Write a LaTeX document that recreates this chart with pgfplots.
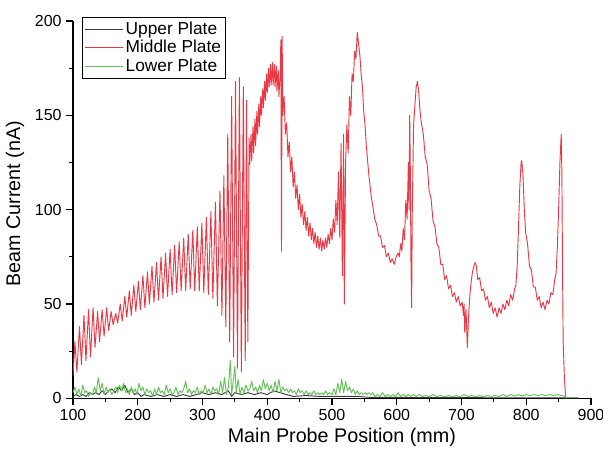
\documentclass[border=0pt]{standalone}
\usepackage{fontspec}
\setmainfont{Liberation Sans}
\usepackage{pgfplots}
\pgfplotsset{compat=1.18}

\definecolor{upper}{RGB}{60,60,60}
\definecolor{middle}{RGB}{236,56,68}
\definecolor{lower}{RGB}{100,192,88}

\begin{document}
\begin{tikzpicture}
\begin{axis}[
  width=388.5pt, height=283pt, scale only axis,
  xmin=100, xmax=900, ymin=0, ymax=200,
  axis lines=left, axis line style={-, line width=0.8pt},
  xtick={100,200,...,900}, ytick={0,50,...,200},
  minor x tick num=1, minor y tick num=1,
  tick align=outside, tick style={black, line width=0.8pt},
  major tick length=5pt, minor tick length=3pt,
  /pgf/number format/assume math mode=true,
  tick label style={font=\fontsize{12}{14}\selectfont},
  xlabel={Main Probe Position (mm)},
  ylabel={Beam Current (nA)},
  label style={font=\fontsize{14.8}{17}\selectfont},
  xlabel style={at={(axis description cs:0.519,-0.103)}, anchor=center},
  ylabel style={at={(axis description cs:-0.112,0.516)}, anchor=center},
  legend style={at={(axis description cs:0.017,1.011)}, anchor=north west,
    draw=black, line width=0.5pt, font=\fontsize{13}{15}\selectfont,
    inner sep=1.5pt, row sep=-1pt},
  legend cell align=left,
  legend image code/.code={\draw[#1] (0cm,0cm) -- (1cm,0cm);},
  every axis plot/.append style={line width=0.7pt, line join=round},
]
\coordinate (bl) at (rel axis cs:0,0);
\coordinate (tr) at (rel axis cs:1,1);

% Upper Plate
\addplot[color=upper, no marks] coordinates {
(100,1) (105,2) (110,1) (115,2) (120,1) (125,3) (130,2) (135,3) (140,2) (145,4)
(150,2) (155,4) (160,5) (165,3) (170,6) (175,4) (180,7) (185,3) (190,5) (195,2)
(200,3) (205,1) (210,2) (220,1) (230,2) (240,1) (250,2) (260,1) (270,2) (280,1)
(290,2) (300,3) (310,2) (320,3) (330,2) (340,4) (345,1) (350,3) (360,2) (370,3)
(380,2) (390,3) (400,2) (410,4) (420,3) (430,2) (440,1) (460,1.5) (480,1) (500,1)
(520,1) (540,1) (560,0.5) (600,0.5) (650,0.4) (700,0.4) (750,0.3) (800,0.3) (850,0.3) (880,0.3)
};
\addlegendentry{Upper Plate}

% Middle Plate
\addplot[color=middle, no marks] coordinates {
(100,12) (103,30) (106,14) (110,38) (113,18) (117,44) (120,20) (124,47) (127,22) (131,48)
(134,27) (138,46) (141,30) (145,47) (148,33) (152,48) (155,36) (159,46) (162,39) (166,45)
(169,40) (173,50) (176,41) (180,54) (183,43) (187,57) (190,44) (194,60) (197,46) (201,62)
(204,47) (208,65) (211,48) (215,67) (218,50) (222,70) (225,51) (229,72) (232,52) (236,75)
(239,53) (243,77) (246,54) (250,79) (253,55) (257,81) (260,56) (264,83) (267,57) (271,85)
(274,57) (278,87) (281,58) (285,89) (288,57) (292,91) (295,57) (299,93) (302,56) (306,96)
(309,55) (313,99) (316,53) (320,104) (323,49) (327,110) (330,44) (333,118)
(336,38) (339,140) (342,30) (345,160) (348,22) (351,168) (354,16) (357,170) (360,14) (363,165)
(366,20) (368,158) (370,30) (372,138)
(373,124) (375,140) (376,126) (378,144) (379,130) (381,148) (382,134) (384,152) (385,140) (387,156)
(388,144) (390,160) (391,150) (393,164) (394,154) (396,168) (397,158) (399,172) (400,162) (402,175)
(403,165) (405,177) (406,166) (408,178) (409,166) (411,177) (412,165) (414,176) (415,163) (417,174)
(418,160) (420,172) (421,190) (422,78) (423,192) (424,150) (426,160) (428,140)
(430,146) (432,128) (434,136) (436,120) (438,128) (440,112) (442,120) (444,106) (446,113) (448,100)
(450,108) (452,96) (454,103) (456,92) (458,99) (460,89) (462,96) (464,86) (466,93) (468,84)
(470,90) (472,82) (474,88) (476,80) (478,86) (480,79) (482,85) (484,78) (486,84) (488,79)
(490,85) (492,80) (494,87) (496,82) (498,90) (500,84) (502,95) (504,88) (506,105) (508,92)
(510,120) (512,85) (514,135) (516,65) (518,140) (519,50) (521,125) (523,145) (525,130) (527,160)
(529,150) (531,172) (533,168) (535,184) (537,180) (539,194) (541,188) (543,182) (545,172) (547,165)
(549,152) (551,145) (553,134) (555,126) (557,118) (559,112) (561,106) (563,102) (566,95) (569,92)
(572,86) (575,86) (578,80) (581,81) (584,75) (587,77) (590,72) (593,74) (596,71) (599,75)
(602,77) (604,75) (606,82) (608,78) (610,90) (612,84) (614,105) (616,95) (618,125) (619,100)
(620,150) (621,120) (622,70) (623,48) (624,100) (626,145) (628,155) (630,165) (632,168) (634,162)
(636,152) (638,146) (641,140) (644,128) (647,124) (650,110) (653,106) (656,94) (659,91) (662,82)
(665,80) (668,71) (671,71) (674,63) (677,65) (680,58) (683,60) (686,54) (689,56) (692,51)
(695,54) (698,49) (701,51) (703,44) (704,50) (705,35) (707,47) (709,27) (711,44) (713,55)
(715,62) (717,67) (719,70) (721,72) (723,70) (725,63) (728,64) (731,57) (734,58) (737,52)
(740,54) (743,48) (746,51) (749,45) (752,48) (755,43) (758,48) (761,45) (764,50) (767,47)
(770,52) (773,49) (776,55) (779,52) (782,58) (784,60) (786,70) (788,90) (790,112) (792,125)
(793,126) (795,118) (797,100) (799,88) (802,82) (805,70) (808,68) (811,59) (814,59) (817,52)
(820,54) (823,48) (826,51) (829,47) (832,52) (835,50) (838,56) (841,55) (844,63) (846,66)
(848,80) (850,100) (852,125) (854,140) (855,120) (856,70) (857,30) (859,10) (861,0)
};
\addlegendentry{Middle Plate}

% Lower Plate
\addplot[color=lower, no marks] coordinates {
(100,3) (103,6) (106,2) (109,5) (112,1) (115,7) (118,3) (121,4) (124,1) (127,3)
(130,2) (133,6) (136,3) (139,11) (142,4) (145,8) (148,2) (151,6) (154,3) (157,5)
(160,2) (163,4) (166,6) (169,3) (172,7) (175,4) (178,8) (181,3) (184,5) (187,2)
(190,6) (193,3) (196,5) (199,2) (202,8) (205,4) (208,6) (211,2) (214,5) (217,3)
(220,4) (223,1) (226,5) (229,2) (232,6) (235,3) (238,4) (241,2) (244,7) (247,3)
(250,5) (253,2) (256,3) (259,6) (262,2) (265,4) (268,3) (271,5) (274,9) (277,3)
(280,5) (283,2) (286,4) (289,3) (292,6) (295,2) (298,4) (301,3) (304,7) (307,3)
(310,5) (313,2) (316,6) (319,4) (322,5) (325,2) (328,9) (331,3) (334,11) (337,2)
(340,6) (343,20) (345,2) (347,8) (350,17) (352,3) (355,10) (358,2) (361,6) (364,3)
(367,7) (370,4) (373,5) (376,9) (379,4) (382,6) (385,3) (388,7) (391,4) (394,10)
(397,5) (400,8) (403,4) (406,7) (409,3) (412,9) (415,4) (418,10) (421,3) (424,6)
(427,4) (430,5) (433,3) (436,5) (439,3) (442,4) (445,2) (448,5) (451,3) (454,4)
(457,2) (460,4) (463,2) (466,3) (469,2) (472,4) (475,2) (478,3) (481,2) (484,3)
(487,2) (490,4) (493,2) (496,3) (500,2) (503,5) (506,2) (509,8) (512,3) (515,10)
(518,3) (521,9) (524,4) (527,6) (530,3) (533,5) (536,2) (539,4) (542,2) (545,3)
(548,2) (551,3) (554,2) (557,3) (560,2) (563,3) (566,1) (570,2) (574,1) (578,3)
(582,1) (586,2) (590,1) (594,2) (598,1) (602,3) (606,1) (610,2) (614,1) (618,2)
(622,1) (626,2) (630,1) (635,2) (640,1) (645,1.5) (650,0.8) (656,2) (662,1) (668,1.5)
(674,0.8) (680,1.5) (686,0.8) (692,1.5) (698,0.8) (704,2) (710,1) (716,1.5) (722,0.8) (728,1.5)
(734,0.8) (740,1.5) (746,1) (752,1.5) (758,1) (764,2) (770,1) (776,2) (782,1.2) (788,2)
(794,1.2) (800,2) (806,1.5) (812,2) (818,1.5) (824,2) (830,1.5) (836,2) (842,1.5) (848,2)
(854,1.5) (860,1) (862,0.3) (880,0.3)
};
\addlegendentry{Lower Plate}
\end{axis}
\pgfresetboundingbox
\path ([shift={(-54.75pt,-44.25pt)}]bl) rectangle ([shift={(9pt,15.75pt)}]tr);
\end{tikzpicture}
\end{document}
